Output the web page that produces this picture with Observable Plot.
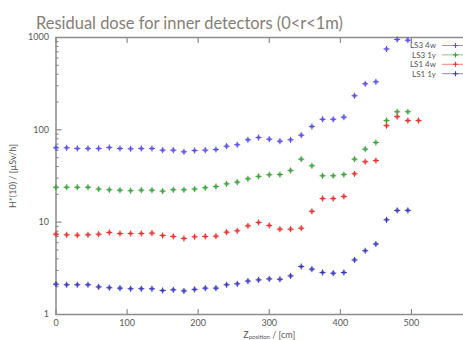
<!DOCTYPE html>
<html>
<head>
<meta charset="utf-8">
<script src="https://cdn.jsdelivr.net/npm/d3@7"></script>
<script src="https://cdn.jsdelivr.net/npm/@observablehq/plot@0.6"></script>
<style>
  body { margin: 0; background: #fff; width: 463px; height: 340px; overflow: hidden; position: relative; font-family: Lato, "Open Sans", sans-serif; }
  #title { position: absolute; left: 36px; top: 13px; font-size: 17px; line-height: 20px; color: #857e76; white-space: nowrap; transform-origin: 0 0; }
  #chart { position: absolute; left: 0; top: 30px; width: 482px; height: 310px; }
  #chart svg { max-width: none !important; }
  #legend { position: absolute; left: 0; top: 0; pointer-events: none; }
</style>
</head>
<body>
<div id="title">Residual dose for inner detectors (0&lt;r&lt;1m)</div>
<div id="chart"></div>
<svg id="legend" width="463" height="340"></svg>
<script>
// Longitudinal position of each scoring bin (cm)
const zPositions = [0, 15, 30, 45, 60, 75, 90, 105, 120, 135, 150, 165, 180, 195, 210, 225, 240, 255,
  270, 285, 300, 315, 330, 345, 360, 375, 390, 405, 420, 435, 450, 465, 480, 495, 510];

// Ambient dose equivalent rate H*(10) in µSv/h, per cooling scenario
const ls3_4w = [63.9, 63.9, 62.8, 62.8, 62.8, 64.4, 62.8, 62.3, 62.8, 62.8, 60.2, 60.2, 57.8, 59.7, 60.2, 61.2,
  66.5, 68.9, 78, 82.6, 79.2, 75.3, 78, 87.5, 108.7, 130, 130, 137, 234, 315, 331, 751, 951, 935];
const ls3_1y = [23.9, 23.9, 23.9, 23.9, 22.8, 22.4, 22.2, 21.9, 22.2, 22.2, 21.7, 22.4, 22.4, 22.8, 23.6, 24.3,
  26, 27.1, 29.5, 31.3, 32.6, 32.8, 36.3, 48.1, 40.8, 31.8, 31.8, 32.8, 48.1, 61.7, 72.9, 126, 157, 157];
const ls1_4w = [7.41, 7.30, 7.23, 7.30, 7.41, 7.73, 7.54, 7.54, 7.54, 7.60, 7.17, 7.00, 6.66, 6.94, 7.00, 7.05,
  7.79, 8.06, 9.13, 9.92, 9.20, 8.39, 8.39, 8.60, 13.1, 18.0, 18.0, 19.0, 33.4, 45.1, 46.5, 111, 139, 126, 126];
const ls1_1y = [2.13, 2.10, 2.10, 2.10, 1.99, 1.95, 1.93, 1.90, 1.90, 1.90, 1.82, 1.85, 1.80, 1.87, 1.93, 1.93,
  2.10, 2.15, 2.30, 2.37, 2.43, 2.41, 2.62, 3.31, 3.1, 2.85, 2.8, 2.85, 3.9, 4.9, 5.8, 10.6, 13.4, 13.4];

const seriesNames = ["LS3 4w", "LS3 1y", "LS1 4w", "LS1 1y"];
const seriesValues = [ls3_4w, ls3_1y, ls1_4w, ls1_1y];
const seriesColors = ["#5a4de6", "#3da23d", "#e8332f", "#3a3ab8"];

// Axis ticks
const xTicks = [0, 100, 200, 300, 400, 500];
const yMajor = [1, 10, 100, 1000];
const yMinor = [2, 3, 4, 5, 6, 7, 8, 9, 20, 30, 40, 50, 60, 70, 80, 90, 200, 300, 400, 500, 600, 700, 800, 900];

const rows = seriesNames.flatMap((name, k) =>
  seriesValues[k].map((v, i) => ({series: name, z: zPositions[i], dose: v})));

const plot = Plot.plot({
  width: 482,
  height: 310,
  marginLeft: 55.5,
  marginRight: 0,
  marginTop: 7,
  marginBottom: 26,
  style: {fontFamily: "Lato, 'Open Sans', sans-serif", fontSize: "9px", color: "#5a5a5a", background: "transparent", maxWidth: "none"},
  x: {domain: [0, 600]},
  y: {type: "log", domain: [1, 1000]},
  color: {domain: seriesNames, range: seriesColors},
  marks: [
    Plot.axisY({ticks: yMajor, tickSize: 0, tickPadding: 7, tickFormat: d => String(d),
      label: "H*(10) / [µSv/h]", labelAnchor: "center", labelOffset: 46, labelArrow: "none"}),
    Plot.axisY({ticks: yMajor, tickSize: -6, fill: "none", label: null, stroke: "#777"}),
    Plot.axisY({ticks: yMinor, tickSize: -3, fill: "none", label: null, stroke: "#777"}),
    Plot.axisX({ticks: xTicks, tickSize: 0, tickPadding: 5, tickFormat: d => String(d),
      label: "Z position / [cm]", labelAnchor: "center", labelOffset: 23, labelArrow: "none"}),
    Plot.axisX({ticks: xTicks, tickSize: -5, fill: "none", label: null, stroke: "#777"}),
    Plot.axisX({anchor: "top", ticks: xTicks, tickSize: -5, fill: "none", label: null, stroke: "#777"}),
    Plot.frame({stroke: "#8c8c8c", strokeWidth: 1.5}),
    Plot.dot(rows, {x: "z", y: "dose", fill: "series", r: 2.1, fillOpacity: 0.6}),
    Plot.dot(rows, {x: "z", y: "dose", stroke: "series", symbol: "plus", r: 2.1, strokeWidth: 1})
  ]
});
document.getElementById("chart").append(plot);

// Subscripted x-axis label
const xl = plot.querySelector('g[aria-label="x-axis label"] text');
if (xl) {
  xl.textContent = "";
  const ns = "http://www.w3.org/2000/svg";
  const a = document.createElementNS(ns, "tspan"); a.textContent = "Z";
  const b = document.createElementNS(ns, "tspan"); b.textContent = "position"; b.setAttribute("font-size", "6"); b.setAttribute("dy", "1.5");
  const c = document.createElementNS(ns, "tspan"); c.textContent = " / [cm]"; c.setAttribute("dy", "-1.5");
  xl.append(a, b, c);
}

// Title width fitted to the header line
const title = document.getElementById("title");
const tw = title.getBoundingClientRect().width;
title.style.transform = `scaleX(${307 / tw})`;

// Key in the upper right corner
const legend = d3.select("#legend");
const rowH = 9.4;
seriesNames.forEach((name, k) => {
  const y = 45.5 + k * rowH;
  legend.append("text").attr("x", 436).attr("y", y).attr("dy", "0.35em")
    .attr("text-anchor", "end").attr("font-size", 8).attr("font-family", "Lato, sans-serif")
    .attr("fill", "#555").text(name);
  legend.append("line").attr("x1", 442).attr("x2", 470).attr("y1", y).attr("y2", y)
    .attr("stroke", seriesColors[k]).attr("stroke-opacity", 0.6).attr("stroke-width", 1);
  legend.append("path").attr("d", `M453,${y}h5M455.5,${y - 2.5}v5`)
    .attr("stroke", seriesColors[k]).attr("stroke-width", 1.1);
});
</script>
</body>
</html>
